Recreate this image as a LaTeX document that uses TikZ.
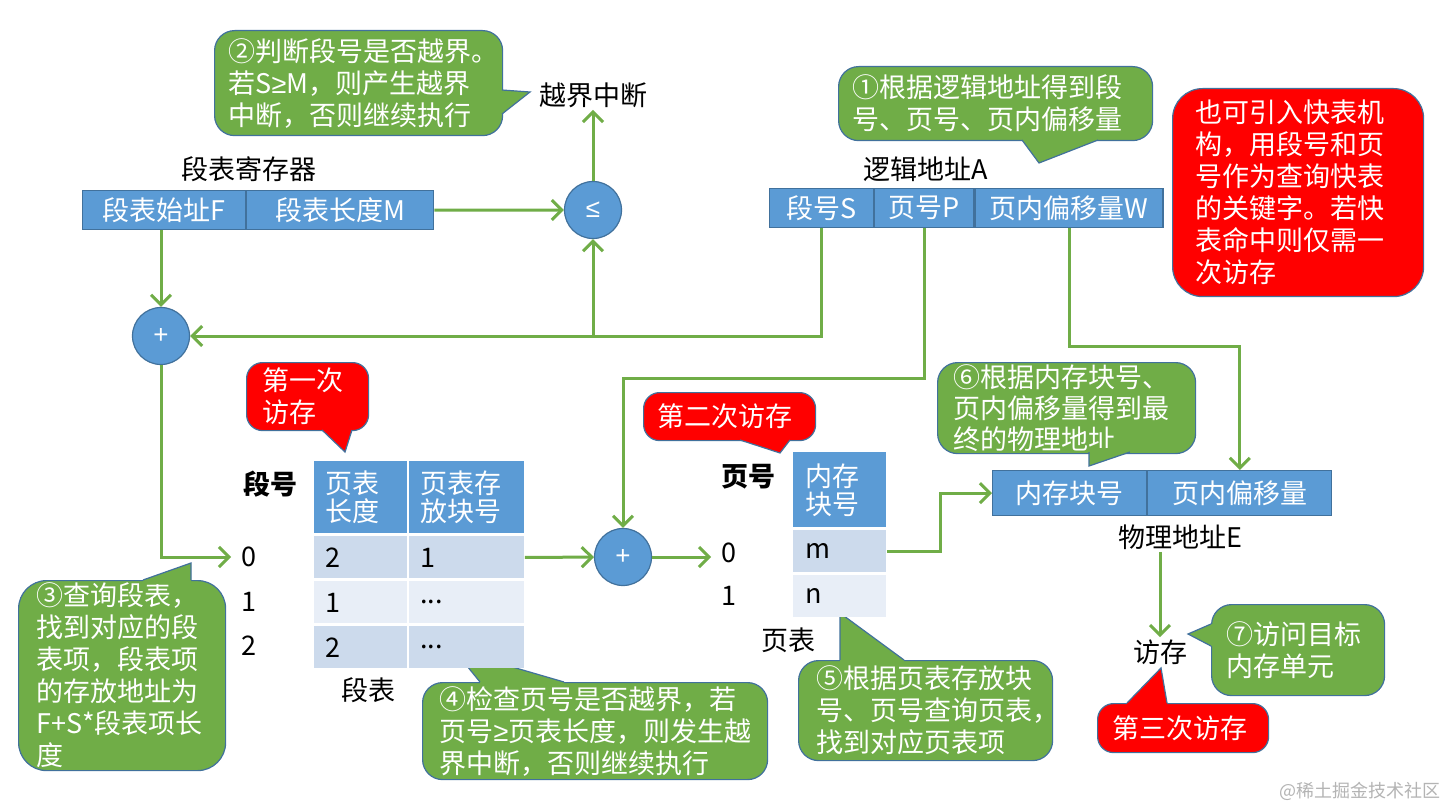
\documentclass[tikz,border=0pt]{standalone}
\usepackage{fontspec}
\setmainfont{Noto Sans CJK SC}
\newfontfamily\symfont{Liberation Sans}
\usepackage{xcolor}
\usetikzlibrary{
    arrows.meta,
    calc
}
\definecolor{boxblue}{HTML}{5B9BD5}
\definecolor{edgeblue}{HTML}{41719C}
\definecolor{bubblegreen}{HTML}{70AD47}
\definecolor{flowgreen}{HTML}{70AD47}
\definecolor{rowdark}{HTML}{CCDAEC}
\definecolor{rowlight}{HTML}{E8EEF7}
\definecolor{alarmred}{HTML}{FF0000}
\definecolor{markgray}{HTML}{B4B4B4}

\newcommand{\mainsize}{\fontsize{13.5}{16}\selectfont}
\newcommand{\notless}{{\symfont ≥}}
\newcommand{\bubbletail}[5]{%
    \fill[#1] (#2) -- (#3) -- (#4) -- ($(#4)+(#5)$) -- ($(#2)+(#5)$) -- cycle;
    \draw[edgeblue, line width=0.6pt] (#2) -- (#3) -- (#4);
}

\tikzset{
    lbl/.style={font=\mainsize, inner sep=1pt},
    cell/.style={draw=edgeblue, line width=0.6pt, fill=boxblue, text=white,
        inner sep=0pt, anchor=north west, font=\mainsize},
    tcell/.style={anchor=north west, inner xsep=5.5pt, inner ysep=0pt,
        minimum height=21pt, align=left, font=\mainsize},
    thead/.style={tcell, fill=boxblue, text=white,
        font=\fontsize{13.5}{14}\selectfont},
    idx/.style={font=\mainsize, inner sep=2pt},
    idxhead/.style={font=\mainsize\bfseries, inner sep=1pt},
    op/.style={circle, draw=edgeblue, line width=0.6pt, fill=boxblue, text=white,
        minimum size=28.5pt, inner sep=0pt, font=\symfont\fontsize{13}{14}\selectfont},
    bubble/.style={draw=edgeblue, line width=0.6pt, fill=bubblegreen, text=white,
        rounded corners=10pt, align=left, anchor=north west, inner ysep=1pt,
        font=\mainsize},
    alarm/.style={bubble, fill=alarmred, rounded corners=8pt},
    flow/.style={draw=flowgreen, line width=1.5pt,
        -{Straight Barb[length=5pt,width=10pt]}}
}

\begin{document}
\begin{tikzpicture}[x=0.5pt, y=-0.5pt]
    \path[fill=white] (0,0) rectangle (1443,807);
    \useasboundingbox (0,0) rectangle (1443,807);

    % callouts
    \node[bubble, inner xsep=7pt, text width=130pt, minimum height=52.5pt] (tip2) at (214,30)
        {②判断段号是否越界。\\若S\notless M，则产生越界\\中断，否则继续执行};
    \bubbletail{bubblegreen}{502,90}{530,92}{502,114}{-4,0}
    \node[bubble, inner xsep=7pt, text width=143pt, minimum height=37pt] (tip1) at (838,66)
        {①根据逻辑地址得到段\\号、页号、页内偏移量};
    \bubbletail{bubblegreen}{1022,140}{1039,163}{1098,140}{0,-4}
    \node[alarm, rounded corners=15pt, inner xsep=11.5pt, text width=102.5pt, minimum height=104pt] (tlb) at (1172,88)
        {也可引入快表机\\构，用段号和页\\号作为查询快表\\的关键字。若快\\表命中则仅需一\\次访存};
    \node[bubble, rounded corners=14pt, inner xsep=9pt, text width=85.5pt, minimum height=95pt] (tip3) at (18,580)
        {③查询段表，\\找到对应的段\\表项，段表项\\的存放地址为\\F+S*段表项长\\度};
    \bubbletail{bubblegreen}{143,580}{191,563}{191,580}{0,4}
    \node[bubble, inner xsep=8.5pt, text width=155.5pt, minimum height=48.5pt] (tip4) at (422,682)
        {④检查页号是否越界，若\\页号\notless 页表长度，则发生越\\界中断，否则继续执行};
    \bubbletail{bubblegreen}{480,682}{454,650}{564,682}{0,4}
    \node[bubble, inner xsep=9pt, text width=109pt, minimum height=50pt] (tip5) at (798,660)
        {⑤根据页表存放块\\号、页号查询页表，\\找到对应页表项};
    \bubbletail{bubblegreen}{840,660}{840,613}{904,660}{0,4}
    \node[bubble, inner xsep=8pt, text width=113pt, minimum height=45pt,
        font=\fontsize{13.5}{15.5}\selectfont] (tip6) at (937,362)
        {⑥根据内存块号、\\页内偏移量得到最\\终的物理地址};
    \bubbletail{bubblegreen}{1089,452}{1089,466}{1130,452}{0,-4}
    \node[bubble, inner xsep=7.5pt, text width=71.5pt, minimum height=45.5pt] (tip7) at (1211,604)
        {⑦访问目标\\内存单元};
    \bubbletail{bubblegreen}{1211,624}{1188,634}{1211,646}{4,0}
    \node[alarm, inner xsep=8pt, text width=45pt, minimum height=34pt] (first) at (246,362)
        {第一次\\访存};
    \bubbletail{alarmred}{322,430}{345,452}{352,430}{0,-4}
    \node[alarm, inner xsep=7pt, text width=72pt, minimum height=24pt] (second) at (643,392)
        {第二次访存};
    \bubbletail{alarmred}{740,440}{780,453}{790,440}{0,-4}
    \node[alarm, inner xsep=7.5pt, text width=70.5pt, minimum height=24.5pt] (third) at (1097,703)
        {第三次访存};
    \bubbletail{alarmred}{1127,703}{1161,668}{1167,703}{0,4}

    % labels
    \node[lbl] (over) at (593,95) {越界中断};
    \node[lbl] (regl) at (249,169) {段表寄存器};
    \node[lbl] (lal) at (926,169) {逻辑地址A};
    \node[lbl] (pal) at (1180,537) {物理地址E};
    \node[lbl] (visit) at (1160,652) {访存};
    \node[lbl] (stl) at (368,690) {段表};
    \node[lbl] (ptl) at (788,640) {页表};

    % registers and addresses
    \node[cell, minimum width=81.5pt, minimum height=19.5pt] (regF) at (82,190) {段表始址F};
    \node[cell, minimum width=93.5pt, minimum height=19.5pt] (regM) at (regF.north east) {段表长度M};
    \node[cell, minimum width=52pt, minimum height=19.5pt] (la1) at (769,188) {段号S};
    \node[cell, minimum width=49.5pt, minimum height=19.5pt] (la2) at (la1.north east) {页号P};
    \node[cell, minimum width=94pt, minimum height=19.5pt] (la3) at (la2.north east) {页内偏移量W};
    \node[cell, minimum width=77pt, minimum height=22.5pt] (pa1) at (992,470) {内存块号};
    \node[cell, minimum width=92pt, minimum height=22.5pt] (pa2) at (pa1.north east) {页内偏移量};

    \node[op] (le) at (593,210) {≤};
    \node[op] (plus1) at (161,336) {+};
    \node[op] (plus2) at (623,557) {+};

    % segment table
    \node[idxhead] (sih) at (270,484) {段号};
    \node[thead, text width=35.5pt, minimum height=36pt] (sh1) at (314,461) {页表\\长度};
    \node[thead, text width=46.5pt, minimum height=36pt] (sh2) at (409,461) {页表存\\放块号};
    \node[tcell, fill=rowdark, text width=35.5pt] (sl0) at (314,536) {2};
    \node[tcell, fill=rowdark, text width=46.5pt] (sb0) at (409,536) {1};
    \node[tcell, fill=rowlight, text width=35.5pt] (sl1) at (314,581) {1};
    \node[tcell, fill=rowlight, text width=46.5pt] (sb1) at (409,581) {...};
    \node[tcell, fill=rowdark, text width=35.5pt] (sl2) at (314,626) {2};
    \node[tcell, fill=rowdark, text width=46.5pt] (sb2) at (409,626) {...};
    \foreach \i in {0,1,2}
        \node[idx] (si\i) at (249,557+44.5*\i) {\i};

    % page table
    \node[idxhead] (pih) at (748,477) {页号};
    \node[thead, inner xsep=6pt, text width=34.5pt, minimum height=37.5pt] (ph) at (793,452) {内存\\块号};
    \node[tcell, inner xsep=6pt, fill=rowdark, text width=34.5pt] (pt0) at (793,530) {m};
    \node[tcell, inner xsep=6pt, fill=rowlight, text width=34.5pt] (pt1) at (793,575) {n};
    \foreach \i in {0,1}
        \node[idx] (pi\i) at (729,553+43*\i) {\i};

    % connections
    \draw[flow] (regM.east) -- (le.west);
    \draw[flow] (le.north) -- (over.south);
    \draw[flow] (regF.south -| plus1) -- (plus1.north);
    \draw[flow] (la1.south) |- (plus1.east);
    \draw[flow] (le |- plus1) -- (le.south);
    \draw[flow] (plus1.south) |- ([xshift=-3pt]si0.west);
    \draw[flow] (sb0.east) -- (plus2);
    \draw[flow] (la2.south) -- ++(0,150) -| (plus2.north);
    \draw[flow] (plus2) -- ([xshift=-3pt]plus2 -| pi0.west);
    \draw[flow] (pt0.east) -- ++(54,0) |- (pa1.west);
    \draw[flow] (la3.south) -- ++(0,118) -| (pa2.north);
    \draw[flow] (visit.north |- pal.south) -- (visit.north);

    \node[font=\fontsize{9}{10}\selectfont, text=markgray] (mark) at (1360,791) {@稀土掘金技术社区};
\end{tikzpicture}
\end{document}
